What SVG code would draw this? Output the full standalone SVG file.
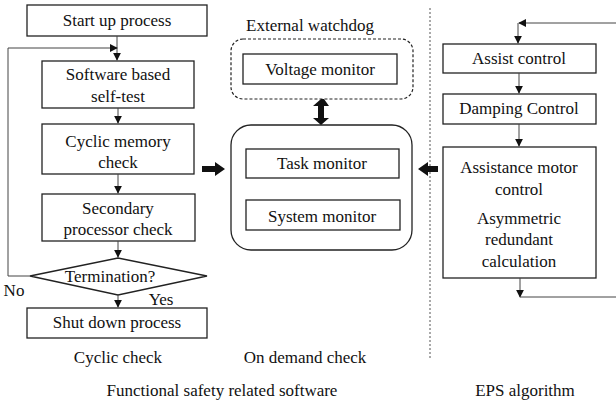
<svg xmlns="http://www.w3.org/2000/svg" width="616" height="402" viewBox="0 0 616 402" font-family="'Liberation Serif', 'Times New Roman', serif">
  <style>
    .t { font-family: "Liberation Serif", "Times New Roman", serif; font-size: 17px; fill: #111; text-anchor: middle; }
    .box { fill: #fff; stroke: #222; stroke-width: 1.3; }
    .dash { fill: none; stroke: #222; stroke-width: 1.2; stroke-dasharray: 3 2; }
    .wire { fill: none; stroke: #444; stroke-width: 1; }
    .sep { fill: none; stroke: #555; stroke-width: 1; stroke-dasharray: 2 2; }
    .block { fill: #111; }
  </style>
  <defs>
    <marker id="tip" viewBox="0 0 10 10" refX="9" refY="5" markerWidth="8" markerHeight="8" markerUnits="userSpaceOnUse" orient="auto">
      <path d="M0,0 L10,5 L0,10 z" fill="#111"/>
    </marker>
  </defs>

  <!-- left flow: cyclic check -->
  <g id="start"><rect class="box" x="27" y="5" width="180" height="31"/><text class="t" font-family="Liberation Serif, serif" x="117" y="26">Start up process</text></g>
  <g id="selftest"><rect class="box" x="42" y="61" width="152" height="47"/><text class="t" font-family="Liberation Serif, serif" x="118" y="80">Software based</text><text class="t" font-family="Liberation Serif, serif" x="118" y="102">self-test</text></g>
  <g id="memcheck"><rect class="box" x="42" y="124" width="152" height="50"/><text class="t" font-family="Liberation Serif, serif" x="118" y="147">Cyclic memory</text><text class="t" font-family="Liberation Serif, serif" x="118" y="168">check</text></g>
  <g id="proccheck"><rect class="box" x="42" y="194" width="153" height="47"/><text class="t" font-family="Liberation Serif, serif" x="118" y="214">Secondary</text><text class="t" font-family="Liberation Serif, serif" x="118" y="235">processor check</text></g>
  <g id="termination"><polygon class="box" points="30,276 118,258 207,276 118,295"/><text class="t" font-family="Liberation Serif, serif" x="110" y="282">Termination?</text></g>
  <g id="shutdown"><rect class="box" x="27" y="308" width="180" height="30"/><text class="t" font-family="Liberation Serif, serif" x="117" y="328">Shut down process</text></g>

  <!-- middle: watchdog and monitors -->
  <g id="watchdog">
    <rect class="dash" x="231" y="39" width="182" height="60" rx="12"/>
    <rect class="box" x="243" y="54" width="154" height="30"/>
    <text class="t" font-family="Liberation Serif, serif" x="310" y="31">External watchdog</text>
    <text class="t" font-family="Liberation Serif, serif" x="320" y="75">Voltage monitor</text>
  </g>
  <g id="monitors">
    <rect class="box" x="231" y="125" width="181" height="125" rx="20"/>
    <rect class="box" x="246" y="149" width="153" height="29"/>
    <rect class="box" x="246" y="200" width="154" height="30"/>
    <text class="t" font-family="Liberation Serif, serif" x="322" y="169">Task monitor</text>
    <text class="t" font-family="Liberation Serif, serif" x="322" y="222">System monitor</text>
  </g>

  <!-- right flow: EPS algorithm -->
  <g id="assist"><rect class="box" x="443" y="44" width="153" height="29"/><text class="t" font-family="Liberation Serif, serif" x="519" y="64">Assist control</text></g>
  <g id="damping"><rect class="box" x="443" y="94" width="153" height="30"/><text class="t" font-family="Liberation Serif, serif" x="519" y="114" font-size="16">Damping Control</text></g>
  <g id="motor">
    <rect class="box" x="443" y="147" width="153" height="131"/>
    <text class="t" font-family="Liberation Serif, serif" x="519" y="173">Assistance motor</text>
    <text class="t" font-family="Liberation Serif, serif" x="519" y="195">control</text>
    <text class="t" font-family="Liberation Serif, serif" x="519" y="224">Asymmetric</text>
    <text class="t" font-family="Liberation Serif, serif" x="519" y="245">redundant</text>
    <text class="t" font-family="Liberation Serif, serif" x="519" y="267">calculation</text>
  </g>

  <!-- captions -->
  <g id="captions">
    <text class="t" x="118" y="363">Cyclic check</text>
    <text class="t" x="305" y="363">On demand check</text>
    <text class="t" x="222" y="396">Functional safety related software</text>
    <text class="t" x="525" y="396">EPS algorithm</text>
    <text class="t" x="14" y="296">No</text>
    <text class="t" x="161" y="305">Yes</text>
  </g>

  <!-- connectors -->
  <g id="connectors">
    <path class="sep" d="M430,8 V358"/>
    <path class="wire" d="M117,36 V60" marker-end="url(#tip)"/>
    <path class="wire" d="M8,276 H30"/>
    <path class="wire" d="M8,276 V48 H117" marker-end="url(#tip)"/>
    <path class="wire" d="M118,108 V123" marker-end="url(#tip)"/>
    <path class="wire" d="M118,174 V193" marker-end="url(#tip)"/>
    <path class="wire" d="M118,241 V257" marker-end="url(#tip)"/>
    <path class="wire" d="M118,295 V307" marker-end="url(#tip)"/>

    <path class="wire" d="M616,23 H519" marker-end="url(#tip)"/>
    <path class="wire" d="M518,23 V43" marker-end="url(#tip)"/>
    <path class="wire" d="M519,73 V93" marker-end="url(#tip)"/>
    <path class="wire" d="M519,124 V146" marker-end="url(#tip)"/>
    <path class="wire" d="M520,278 V297" marker-end="url(#tip)"/>
    <path class="wire" d="M520,297 H616"/>

    <!-- block arrows -->
    <path class="block" d="M202,166 H215 V162 L225,169 L215,176 V172 H202 z"/>
    <path class="block" d="M438,166 H428 V162 L418,169 L428,176 V172 H438 z"/>
    <path class="block" d="M318,99 L324,99 L324,99 L329,106 H324 V118 H329 L321,125 L313,118 H318 V106 H313 L321,99 z"/>
  </g>
</svg>
